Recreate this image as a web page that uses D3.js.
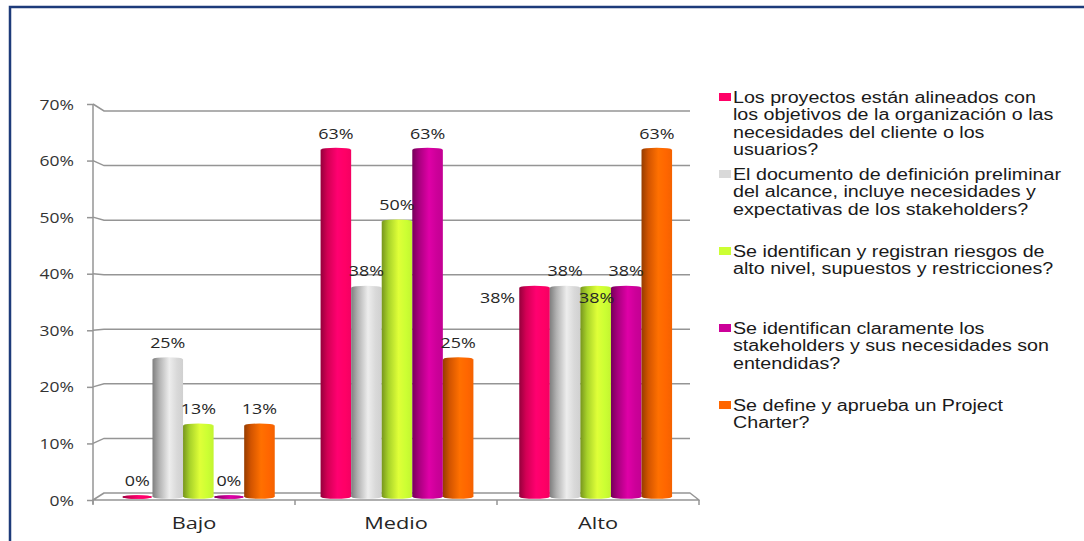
<!DOCTYPE html>
<html>
<head>
<meta charset="utf-8">
<script src="https://cdn.jsdelivr.net/npm/d3@7"></script>
<style>
  body { margin: 0; background: #fff; }
  svg { display: block; }
</style>
</head>
<body>
<svg id="chart" width="1084" height="541"></svg>
<script>
// ---- data ----
const categories = ["Bajo", "Medio", "Alto"];
const seriesNames = [
  "Los proyectos están alineados con\nlos objetivos de la organización o las\nnecesidades del cliente o los\nusuarios?",
  "El documento de definición preliminar\ndel alcance, incluye necesidades y\nexpectativas de los stakeholders?",
  "Se identifican y registran riesgos de\nalto nivel, supuestos y restricciones?",
  "Se identifican claramente los\nstakeholders y sus necesidades son\nentendidas?",
  "Se define y aprueba un Project\nCharter?"
];
// percentage of answers per level (Bajo, Medio, Alto)
const alineados    = [0, 63, 38];
const documento    = [25, 38, 38];
const riesgos      = [13, 50, 38];
const stakeholders = [0, 63, 38];
const charter      = [13, 25, 63];
const seriesColors = ["#ff0066", "#d9d9d9", "#ccff33", "#cc0099", "#ff6600"];
const yTicks = [0, 10, 20, 30, 40, 50, 60, 70];

const seriesValues = [alineados, documento, riesgos, stakeholders, charter];

// ---- layout ----
const svg = d3.select("#chart");
const font = "'Open Sans', sans-serif";
const legendFont = "'Liberation Sans', Arial, sans-serif";

// perspective view: front edge, bar plane and back wall each get their own scale
const yAxis = d3.scaleLinear().domain([0, 70]).range([500, 104]);
const yWall = d3.scaleLinear().domain([0, 70]).range([493, 111]);
const yBar  = d3.scaleLinear().domain([0, 70]).range([497, 111]);

const xFront = d3.scaleBand().domain(categories).range([93, 699]).padding(0);
const xBar   = d3.scaleBand().domain(categories).range([99, 695]).padding(0);
const xSeries = d3.scaleBand().domain(d3.range(seriesValues.length))
  .range([0, xBar.bandwidth()]).paddingInner(0).paddingOuter(0.75);

// frame
svg.append("path")
  .attr("d", "M10,541 L10,7 L1084,7")
  .attr("fill", "none")
  .attr("stroke", "#1d3b7a")
  .attr("stroke-width", 2.5);

// gradients for the cylinder-like bars
const defs = svg.append("defs");
seriesColors.forEach((c, i) => {
  const base = d3.color(c);
  const g = defs.append("linearGradient").attr("id", "bar" + i)
    .attr("x1", 0).attr("x2", 1).attr("y1", 0).attr("y2", 0);
  [[0, base.darker(1.5)], [0.22, base.darker(0.55)], [0.55, base.brighter(0.25)],
   [0.8, base], [1, base.darker(0.12)]].forEach(([o, col]) => {
    g.append("stop").attr("offset", o).attr("stop-color", col.formatHex());
  });
});

const grid = svg.append("g").attr("fill", "none").attr("stroke", "#959595").attr("stroke-width", 1.5);

// back wall gridlines joined to the axis ticks
yTicks.filter(v => v > 0).forEach(v => {
  grid.append("path")
    .attr("d", `M93,${yAxis(v)} L${xBar.range()[0] + 5},${yWall(v)} L690,${yWall(v)}`);
});

// floor
const x0 = xFront.range()[0], x1 = xFront.range()[1];
grid.append("path")
  .attr("d", `M${x0},${yAxis(0)} L${x0 + 11},${yWall(0)} L${x1 - 9},${yWall(0)} L${x1},${yAxis(0)} Z`)
  .attr("stroke-linejoin", "round");

// value axis
const axis = d3.axisLeft(yAxis).tickValues(yTicks).tickFormat(d => d + "%").tickSize(6).tickPadding(13);
const axisG = svg.append("g").attr("transform", "translate(93,0)").call(axis);
axisG.select(".domain").remove();
axisG.selectAll(".tick line").attr("stroke", "#959595").attr("stroke-width", 1.5);
axisG.selectAll(".tick text")
  .attr("x", null).attr("dy", null)
  .attr("transform", "translate(-19,5) scale(1.25,1)")
  .attr("font-family", font).attr("font-size", 14).attr("fill", "#333");
svg.append("line")
  .attr("x1", 93).attr("x2", 93).attr("y1", yAxis(70)).attr("y2", yAxis(0) + 4)
  .attr("stroke", "#959595").attr("stroke-width", 1.5);

// category boundary ticks
const bounds = categories.map(c => xFront(c)).concat([x1]);
bounds.forEach(b => {
  grid.append("line").attr("x1", b).attr("x2", b).attr("y1", yAxis(0)).attr("y2", yAxis(0) + 5);
});

// category labels
svg.append("g").selectAll("text").data(categories).join("text")
  .attr("transform", d => `translate(${xFront(d) + xFront.bandwidth() / 2},529) scale(1.36,1)`)
  .attr("text-anchor", "middle")
  .attr("font-family", font).attr("font-size", 16).attr("fill", "#262626")
  .text(d => d);

// bars
const bars = [];
seriesValues.forEach((vals, s) => {
  vals.forEach((v, ci) => bars.push({ s, c: categories[ci], v }));
});
const barW = xSeries.bandwidth();
const barG = svg.append("g");
const barNodes = barG.selectAll("g").data(bars).join("g");
barNodes.append("rect")
  .attr("x", d => xBar(d.c) + xSeries(d.s))
  .attr("y", d => yBar(d.v))
  .attr("width", barW)
  .attr("height", d => yBar(0) - yBar(d.v))
  .attr("fill", d => `url(#bar${d.s})`);
barNodes.append("ellipse")
  .attr("cx", d => xBar(d.c) + xSeries(d.s) + barW / 2)
  .attr("cy", yBar(0))
  .attr("rx", barW / 2 - 0.5).attr("ry", 1.8)
  .attr("fill", d => `url(#bar${d.s})`);
barNodes.append("ellipse")
  .attr("cx", d => xBar(d.c) + xSeries(d.s) + barW / 2)
  .attr("cy", d => yBar(d.v))
  .attr("rx", barW / 2 - 0.5).attr("ry", 1.8)
  .attr("fill", d => `url(#bar${d.s})`);

// value labels; two labels in "Alto" are pushed aside to avoid overlapping
const labelShift = { "0-Alto": [-37, 27], "2-Alto": [1, 27] };
svg.append("g").selectAll("text").data(bars).join("text")
  .attr("transform", d => {
    const sh = labelShift[d.s + "-" + d.c] || [0, 0];
    const x = xBar(d.c) + xSeries(d.s) + barW / 2 + sh[0];
    const y = yBar(d.v) - 11 + sh[1];
    return `translate(${x},${y}) scale(1.28,1)`;
  })
  .attr("text-anchor", "middle")
  .attr("font-family", font).attr("font-size", 14).attr("fill", "#262626")
  .text(d => d.v + "%");

// legend
const legend = svg.append("g");
seriesNames.forEach((name, i) => {
  const cy = 97 + i * 77;
  legend.append("rect")
    .attr("x", 719).attr("y", cy - 4).attr("width", 12).attr("height", 8)
    .attr("fill", seriesColors[i]);
  const t = legend.append("text")
    .attr("transform", `translate(733,${cy + 6}) scale(1.23,1)`)
    .attr("font-family", legendFont).attr("font-size", 16).attr("fill", "#1a1a1a");
  name.split("\n").forEach((line, j) => {
    t.append("tspan").attr("x", 0).attr("dy", j === 0 ? 0 : 17.5).text(line);
  });
});
</script>
</body>
</html>
